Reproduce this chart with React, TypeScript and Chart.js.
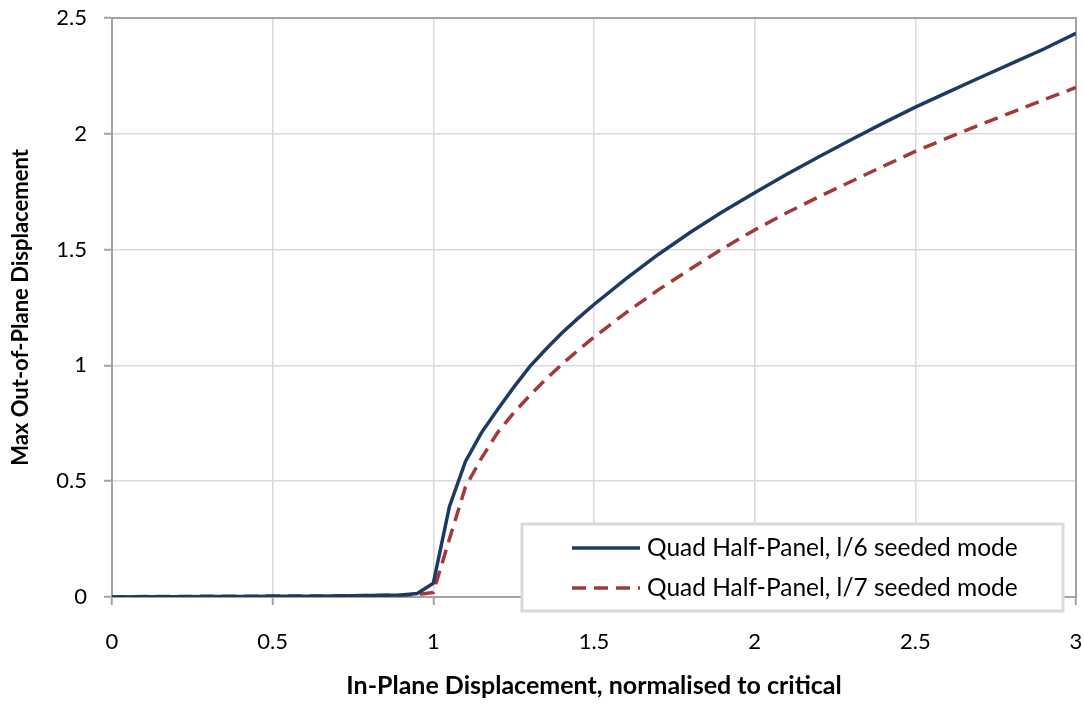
import React, { useEffect, useRef } from "react";
import { Chart, registerables } from "chart.js";

Chart.register(...registerables);

const xValues = [0, 0.1, 0.2, 0.3, 0.4, 0.5, 0.6, 0.7, 0.8, 0.9, 0.95, 1.0, 1.05, 1.1, 1.15, 1.2, 1.25, 1.3, 1.35, 1.4, 1.45, 1.5, 1.6, 1.7, 1.8, 1.9, 2.0, 2.1, 2.2, 2.3, 2.4, 2.5, 2.6, 2.7, 2.8, 2.9, 3.0];
const seriesL6 = [0, 0.001, 0.001, 0.002, 0.002, 0.003, 0.003, 0.004, 0.006, 0.009, 0.015, 0.06, 0.39, 0.585, 0.71, 0.81, 0.905, 0.995, 1.07, 1.14, 1.203, 1.263, 1.375, 1.479, 1.575, 1.663, 1.745, 1.825, 1.901, 1.974, 2.046, 2.115, 2.179, 2.242, 2.304, 2.366, 2.434];
const seriesL7 = [0, 0.002, 0.002, 0.003, 0.003, 0.004, 0.004, 0.005, 0.006, 0.008, 0.01, 0.02, 0.25, 0.475, 0.6, 0.71, 0.795, 0.87, 0.94, 1.005, 1.065, 1.122, 1.228, 1.326, 1.416, 1.504, 1.585, 1.659, 1.728, 1.794, 1.86, 1.924, 1.982, 2.038, 2.093, 2.147, 2.2];
const seriesNames = ["Quad Half-Panel, l/6 seeded mode", "Quad Half-Panel, l/7 seeded mode"];
const xTitle = "In-Plane Displacement, normalised to critical";
const yTitle = "Max Out-of-Plane Displacement";

const FONT = "Lato, 'Open Sans', sans-serif";
const BLUE = "#1c3a63";
const RED = "#a33a3a";
const AXIS = "#a3a3a3";

const fmt = (v: any) => String(Number(v));

const frameLegendPlugin = {
  id: "frameLegend",
  beforeDatasetsDraw(chart: any) {
    const { ctx, chartArea: a } = chart;
    ctx.save();
    ctx.strokeStyle = AXIS;
    ctx.lineWidth = 2;
    ctx.strokeRect(a.left, a.top, a.right - a.left, a.bottom - a.top);
    ctx.restore();
  },
  afterDraw(chart: any) {
    const { ctx, chartArea: a } = chart;
    const right = a.right - 13;
    const bottom = a.bottom + 14;
    const w = 541;
    const h = 87;
    const left = right - w;
    const top = bottom - h;
    ctx.save();
    ctx.fillStyle = "#ffffff";
    ctx.fillRect(left, top, w, h);
    ctx.strokeStyle = "#d9d9d9";
    ctx.lineWidth = 3;
    ctx.strokeRect(left, top, w, h);
    chart.data.datasets.forEach((ds: any, i: number) => {
      const y = top + 24 + i * 40;
      ctx.beginPath();
      ctx.strokeStyle = ds.borderColor;
      ctx.lineWidth = ds.borderWidth;
      ctx.setLineDash(ds.borderDash || []);
      ctx.moveTo(left + 50, y);
      ctx.lineTo(left + 118, y);
      ctx.stroke();
      ctx.setLineDash([]);
      ctx.fillStyle = "#000000";
      ctx.font = `24.5px ${FONT}`;
      ctx.textBaseline = "middle";
      ctx.textAlign = "left";
      ctx.fillText(ds.label, left + 125, y);
    });
    ctx.restore();
  },
};

export default function App() {
  const ref = useRef<HTMLCanvasElement | null>(null);
  useEffect(() => {
    if (!ref.current) return;
    const chart = new Chart(ref.current, {
      type: "line",
      data: {
        datasets: [
          {
            label: seriesNames[0],
            data: xValues.map((x, i) => ({ x, y: seriesL6[i] })),
            borderColor: BLUE,
            borderWidth: 3.5,
            pointRadius: 0,
            tension: 0,
            fill: false,
          },
          {
            label: seriesNames[1],
            data: xValues.map((x, i) => ({ x, y: seriesL7[i] })),
            borderColor: RED,
            borderWidth: 3.5,
            borderDash: [14, 8],
            pointRadius: 0,
            tension: 0,
            fill: false,
          },
        ],
      },
      options: {
        responsive: false,
        maintainAspectRatio: false,
        animation: false,
        devicePixelRatio: 1,
        layout: { padding: { left: 0, right: 8, top: 18, bottom: 0 } },
        plugins: { legend: { display: false }, tooltip: { enabled: false } },
        scales: {
          x: {
            type: "linear",
            min: 0,
            max: 3,
            afterFit: (s: any) => { s.height = 108; s.paddingLeft = 0; s.paddingRight = 0; },
            ticks: { stepSize: 0.5, padding: 24, color: "#000", font: { family: FONT, size: 22 }, callback: fmt },
            grid: { color: "#d9d9d9", lineWidth: 1.5, tickLength: 8, tickColor: AXIS, tickWidth: 2 },
            border: { color: AXIS, width: 2 },
            title: { display: true, text: xTitle, color: "#000", font: { family: FONT, size: 25, weight: "bold" }, padding: { top: 0, bottom: 4 } },
          },
          y: {
            type: "linear",
            min: 0,
            max: 2.5,
            afterFit: (s: any) => { s.width = 112; s.paddingTop = 0; s.paddingBottom = 0; },
            ticks: { stepSize: 0.5, padding: 17, color: "#000", font: { family: FONT, size: 22 }, callback: fmt },
            grid: { color: "#d9d9d9", lineWidth: 1.5, tickLength: 8, tickColor: AXIS, tickWidth: 2 },
            border: { color: AXIS, width: 2 },
            title: { display: true, text: yTitle, color: "#000", font: { family: FONT, size: 22, weight: "bold" }, padding: { top: 8, bottom: 0 } },
          },
        },
      },
      plugins: [frameLegendPlugin],
    } as any);
    return () => chart.destroy();
  }, []);
  return (
    <div style={{ position: "fixed", left: 0, top: 0, width: 1084, height: 705, background: "#fff" }}>
      <canvas ref={ref} width={1084} height={705} style={{ width: 1084, height: 705 }} />
    </div>
  );
}
